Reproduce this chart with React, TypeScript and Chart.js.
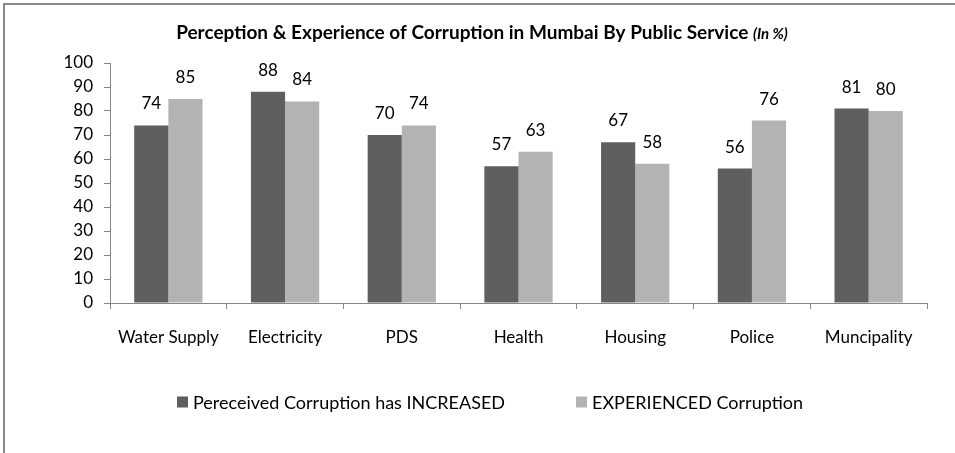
import React, { useEffect, useRef } from "react";
import { Chart, registerables } from "chart.js";

Chart.register(...registerables);

const categories = ["Water Supply", "Electricity", "PDS", "Health", "Housing", "Police", "Muncipality"];
const perceivedIncreased = [74, 88, 70, 57, 67, 56, 81];
const experienced = [85, 84, 74, 63, 58, 76, 80];
const seriesNames = ["Pereceived Corruption has INCREASED", "EXPERIENCED Corruption"];
const yTicks = [0, 10, 20, 30, 40, 50, 60, 70, 80, 90, 100];

const FONT = "Lato, 'Open Sans', sans-serif";
const DARK = "#5f5f5f";
const LIGHT = "#b3b3b3";
const AXIS = "#868686";

const overlay = {
  id: "overlay",
  afterDatasetsDraw(chart: any) {
    const ctx = chart.ctx;
    ctx.save();
    // data labels
    ctx.fillStyle = "#000";
    ctx.font = `17px ${FONT}`;
    ctx.textAlign = "center";
    ctx.textBaseline = "alphabetic";
    chart.data.datasets.forEach((ds: any, di: number) => {
      const meta = chart.getDatasetMeta(di);
      meta.data.forEach((el: any, i: number) => {
        ctx.fillText(String(ds.data[i]), el.x, el.y - 16);
      });
    });
    // title
    const t1 = "Perception & Experience of Corruption in Mumbai By Public Service ";
    const t2 = "(In %)";
    const f1 = `bold 19px ${FONT}`;
    const f2 = `italic bold 15px ${FONT}`;
    ctx.font = f1;
    const w1 = ctx.measureText(t1).width;
    ctx.font = f2;
    const w2 = ctx.measureText(t2).width;
    const cx = 482;
    const x = cx - (w1 + w2) / 2;
    const ty = 39;
    ctx.textAlign = "left";
    ctx.font = f1;
    ctx.fillText(t1, x, ty);
    ctx.font = f2;
    ctx.fillText(t2, x + w1, ty);
    // legend
    ctx.font = `18px ${FONT}`;
    ctx.textBaseline = "middle";
    const box = 11;
    const gap = 5;
    const spacing = 71;
    const widths = chart.data.datasets.map((d: any) => ctx.measureText(d.label).width);
    const total = widths.reduce((a: number, w: number) => a + box + gap + w, 0) + spacing * (widths.length - 1);
    let lx = 490 - total / 2;
    const ly = 402;
    chart.data.datasets.forEach((d: any, i: number) => {
      ctx.fillStyle = d.backgroundColor;
      ctx.fillRect(lx, ly - box / 2, box, box);
      ctx.fillStyle = "#000";
      ctx.fillText(d.label, lx + box + gap, ly + 1);
      lx += box + gap + widths[i] + spacing;
    });
    ctx.restore();
  },
};

export default function App() {
  const ref = useRef<HTMLCanvasElement>(null);
  useEffect(() => {
    if (!ref.current) return;
    const chart = new Chart(ref.current, {
      type: "bar",
      data: {
        labels: categories,
        datasets: [
          { label: seriesNames[0], data: perceivedIncreased, backgroundColor: DARK, barPercentage: 1, categoryPercentage: 0.585 },
          { label: seriesNames[1], data: experienced, backgroundColor: LIGHT, barPercentage: 1, categoryPercentage: 0.585 },
        ],
      },
      options: {
        responsive: false,
        animation: false,
        layout: { padding: { top: 63, left: 0, right: 28, bottom: 90 } },
        plugins: { legend: { display: false }, title: { display: false }, tooltip: { enabled: false } },
        scales: {
          x: {
            afterFit: (s: any) => { s.height = 60; },
            grid: { offset: true, drawOnChartArea: false, drawTicks: true, tickLength: 6, color: AXIS },
            border: { color: AXIS, width: 1 },
            ticks: { color: "#000", padding: 18, font: { family: FONT, size: 17 }, maxRotation: 0 },
          },
          y: {
            min: 0,
            max: 100,
            afterFit: (s: any) => { s.width = 110; },
            afterBuildTicks: (s: any) => { s.ticks = yTicks.map((v) => ({ value: v })); },
            grid: { drawOnChartArea: false, drawTicks: true, tickLength: 6, color: AXIS },
            border: { color: AXIS, width: 1 },
            ticks: { color: "#000", padding: 11, font: { family: FONT, size: 17 } },
          },
        },
      },
      plugins: [overlay],
    });
    return () => chart.destroy();
  }, []);
  return (
    <div style={{ position: "absolute", left: 0, top: 0, width: 955, height: 453, overflow: "hidden", background: "#fff" }}>
      <div style={{ position: "absolute", left: 3, top: 3, width: 1000, height: 500, borderLeft: "2px solid #8a8a8a", borderTop: "2px solid #8a8a8a" }} />
      <canvas ref={ref} width={955} height={453} style={{ position: "absolute", left: 0, top: 0 }} />
    </div>
  );
}
